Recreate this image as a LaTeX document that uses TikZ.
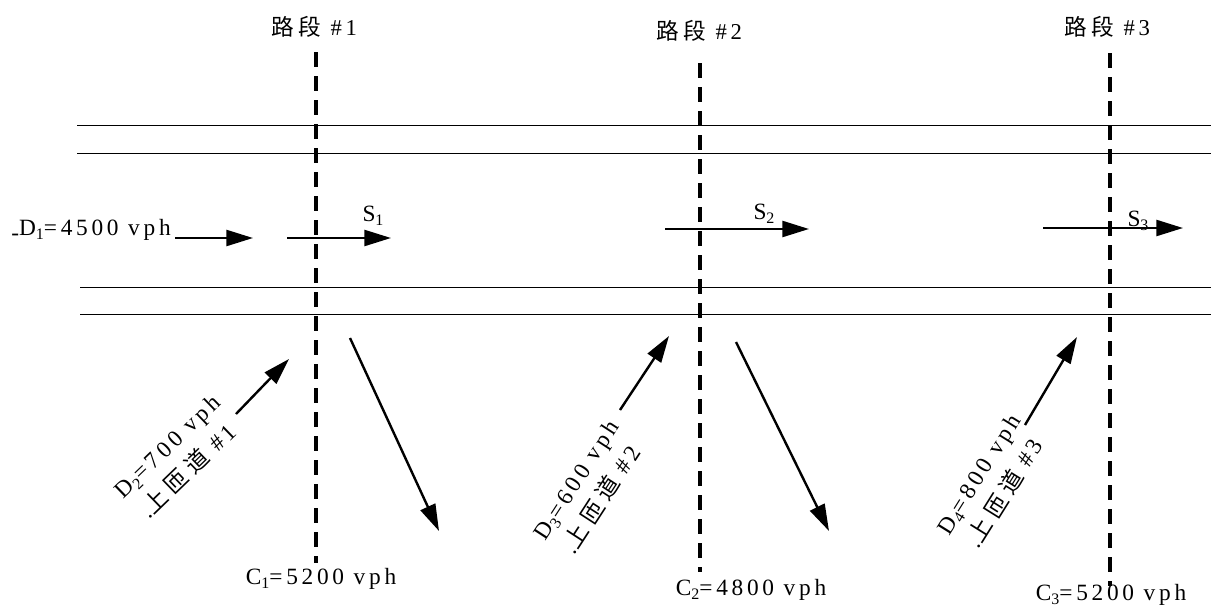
\documentclass[tikz,border=0pt]{standalone}
\usepackage{fontspec}
\setmainfont{Liberation Serif}[LetterSpace=16]
\newfontfamily\cjk{Noto Sans CJK SC}
\usetikzlibrary{arrows.meta}
\newcommand\mysub[1]{\raisebox{-.35ex}{\fontsize{12}{12}\selectfont #1}}
\begin{document}
\begin{tikzpicture}[x=0.75pt,y=-0.75pt,
  road/.style={line width=0.6pt},
  sect/.style={line width=2.6pt,dash pattern=on 11pt off 7pt},
  flow/.style={line width=1.8pt,-{Triangle[length=20pt,width=12pt]}},
  lbl/.style={font=\fontsize{17.5}{19}\selectfont,inner sep=0pt},
  ramp/.style={font=\fontsize{17.5}{24}\selectfont,inner sep=0pt,align=left},
  hd/.style={font=\fontsize{17}{19}\selectfont,inner sep=0pt}]
\useasboundingbox (0,0) rectangle (1211,607);
% road edges
\draw[road] (77,125) -- (1211,125);
\draw[road] (77,153) -- (1211,153);
\draw[road] (80,287) -- (1211,287);
\draw[road] (80,314) -- (1211,314);
% section headers
\node[hd] (h1) at (314,27) {{\cjk 路 段} \#1};
\node[hd] (h2) at (699,31) {{\cjk 路 段} \#2};
\node[hd] (h3) at (1107,27) {{\cjk 路 段} \#3};
% section lines
\coordinate (t1) at (316,52);  \coordinate (b1) at (316,563);
\coordinate (t2) at (700,63);  \coordinate (b2) at (700,572);
\coordinate (t3) at (1110,53); \coordinate (b3) at (1110,586);
\draw[sect] (t1) -- (b1);
\draw[sect] (t2) -- (b2);
\draw[sect] (t3) -- (b3);
% capacities
\node[lbl] (c1) at (321,579) {C\mysub{1}=5200 vph};
\node[lbl] (c2) at (751,590) {C\mysub{2}=4800 vph};
\node[lbl] (c3) at (1111,595) {C\mysub{3}=5200 vph};
% mainline demand
\node[lbl,anchor=west] (d1) at (11,230) {\raisebox{-4pt}{-}D\mysub{1}=4500 vph};
\coordinate (a1s) at (175,238); \coordinate (a1e) at (253,238);
\draw[flow] (a1s) -- (a1e);
\coordinate (s1s) at (287,238); \coordinate (s1e) at (391,238);
\draw[flow] (s1s) -- (s1e);
\node[lbl] (s1) at (373,216) {S\mysub{1}};
\coordinate (s2s) at (665,229); \coordinate (s2e) at (809,229);
\draw[flow] (s2s) -- (s2e);
\node[lbl] (s2) at (764,214) {S\mysub{2}};
\coordinate (s3s) at (1043,228); \coordinate (s3e) at (1183,228);
\draw[flow] (s3s) -- (s3e);
\node[lbl] (s3) at (1138,221) {S\mysub{3}};
% on-ramps
\coordinate (r1s) at (236,414); \coordinate (r1e) at (289,359);
\draw[flow] (r1s) -- (r1e);
\coordinate (r2s) at (620,410); \coordinate (r2e) at (669,336);
\draw[flow] (r2s) -- (r2e);
\coordinate (r3s) at (1025,425); \coordinate (r3e) at (1077,337);
\draw[flow] (r3s) -- (r3e);
% off flows
\coordinate (o1s) at (350,338); \coordinate (o1e) at (439,531);
\draw[flow] (o1s) -- (o1e);
\coordinate (o2s) at (736,342); \coordinate (o2e) at (829,531);
\draw[flow] (o2s) -- (o2e);
% ramp labels
\node[ramp,rotate=44] (q1) at (179,458) {D\mysub{2}=700 vph\\\hspace*{3pt}.{\cjk 上 匝 道} \#1};
\node[ramp,rotate=57] (q2) at (590,489) {D\mysub{3}=600 vph\\\hspace*{3pt}.{\cjk 上 匝 道} \#2};
\node[ramp,rotate=58] (q3) at (993,483) {D\mysub{4}=800 vph\\\hspace*{3pt}.{\cjk 上 匝 道} \#3};
\end{tikzpicture}
\end{document}
